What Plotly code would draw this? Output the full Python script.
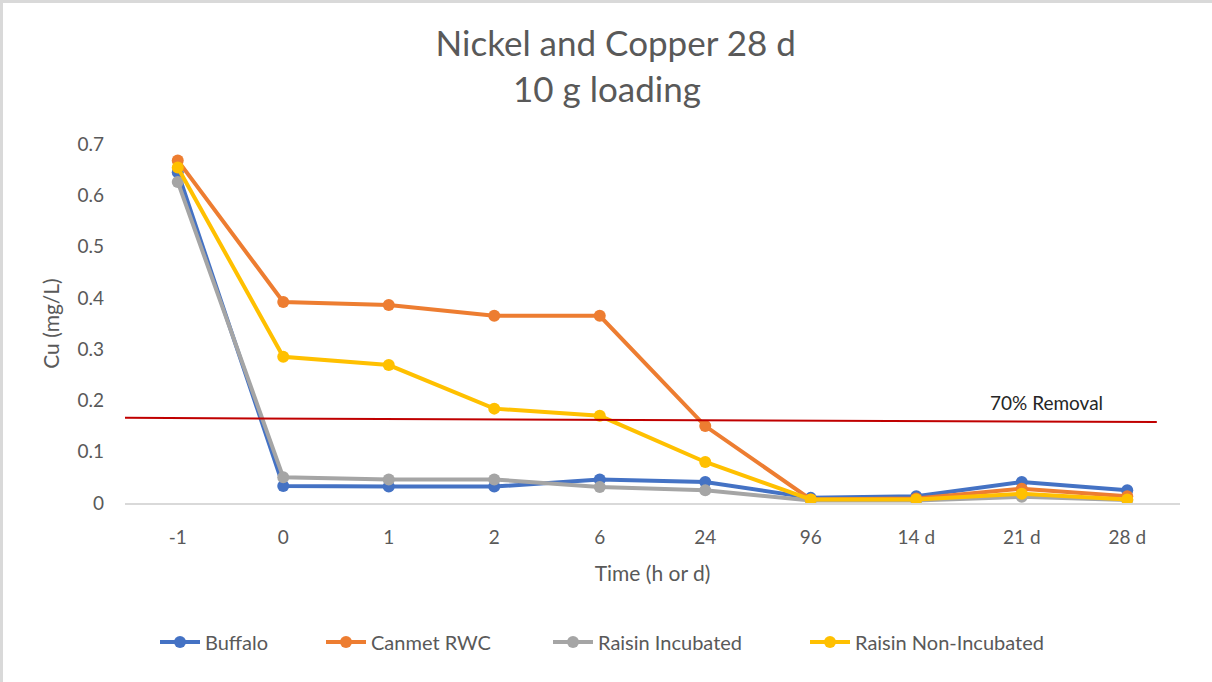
import plotly.graph_objects as go

times = ["-1", "0", "1", "2", "6", "24", "96", "14 d", "21 d", "28 d"]

buffalo = [0.645, 0.033, 0.032, 0.032, 0.046, 0.041, 0.010, 0.013, 0.041, 0.025]
canmet_rwc = [0.668, 0.392, 0.386, 0.365, 0.365, 0.150, 0.007, 0.009, 0.028, 0.013]
raisin_incubated = [0.626, 0.050, 0.046, 0.046, 0.031, 0.025, 0.005, 0.005, 0.012, 0.006]
raisin_non_incubated = [0.654, 0.285, 0.269, 0.184, 0.170, 0.080, 0.007, 0.007, 0.018, 0.007]

# 70% removal reference line (drawn freehand in the original, slightly sloped)
removal_pos = [0.0, 0.978]
removal_level = [0.166, 0.158]

series = [
    ("Buffalo", buffalo, "#4472C4"),
    ("Canmet RWC", canmet_rwc, "#ED7D31"),
    ("Raisin Incubated", raisin_incubated, "#A5A5A5"),
    ("Raisin Non-Incubated", raisin_non_incubated, "#FFC000"),
]

FONT = "Lato"
GREY = "#595959"

W, H = 1212, 682
L, R, T, B = 125, 32, 144, 179
pw, ph = W - L - R, H - T - B

# legend entry start positions (px) in the original
legend_px = [151, 317, 544, 801]

fig = go.Figure()

for i, (name, vals, color) in enumerate(series):
    fig.add_trace(go.Scatter(
        x=times,
        y=vals,
        name=name,
        mode="lines+markers",
        line=dict(color=color, width=4),
        marker=dict(color=color, size=12),
        legend="legend" if i == 0 else f"legend{i + 1}",
    ))

fig.add_trace(go.Scatter(
    x=removal_pos,
    y=removal_level,
    xaxis="x2",
    mode="lines",
    line=dict(color="#C00000", width=2),
    showlegend=False,
    hoverinfo="skip",
))

legends = {}
for i, px in enumerate(legend_px):
    key = "legend" if i == 0 else f"legend{i + 1}"
    legends[key] = dict(
        orientation="h",
        x=(px - L + 4) / pw,
        xanchor="left",
        y=-(642 - T - ph) / ph,
        yanchor="middle",
        font=dict(size=20, color=GREY),
        itemwidth=40,
        bgcolor="rgba(0,0,0,0)",
    )

fig.update_layout(
    width=W,
    height=H,
    margin=dict(l=L, r=R, t=T, b=B),
    paper_bgcolor="white",
    plot_bgcolor="white",
    font=dict(family=FONT, color=GREY, size=17),
    title=dict(
        text="Nickel and Copper 28 d",
        x=0.508,
        xanchor="center",
        y=1 - 44 / H,
        yanchor="middle",
        font=dict(family=FONT, size=35, color=GREY),
    ),
    annotations=[
        dict(
            text="10 g loading",
            xref="paper", yref="paper",
            x=0.457, y=1 + (T - 88) / ph,
            xanchor="center", yanchor="middle",
            showarrow=False,
            font=dict(family=FONT, size=35, color=GREY),
        ),
        dict(
            text="70% Removal",
            xref="x2", yref="y",
            x=0.873, y=0.195,
            xanchor="center", yanchor="middle",
            showarrow=False,
            font=dict(family=FONT, size=19, color="#262626"),
        ),
    ],
    xaxis=dict(
        type="category",
        range=[-0.5, 9.5],
        showgrid=False,
        showline=True,
        linecolor="#D9D9D9",
        linewidth=2,
        ticks="",
        ticklabelstandoff=16,
        tickfont=dict(size=19, color=GREY),
        title=dict(text="Time (h or d)", font=dict(size=21, color=GREY), standoff=20),
    ),
    xaxis2=dict(
        overlaying="x",
        range=[0, 1],
        visible=False,
    ),
    yaxis=dict(
        range=[0, 0.7],
        dtick=0.1,
        showgrid=False,
        zeroline=False,
        ticks="",
        ticklabelstandoff=20,
        tickfont=dict(size=19, color=GREY),
        title=dict(text="Cu (mg/L)", font=dict(size=21, color=GREY), standoff=12),
    ),
    shapes=[
        dict(
            type="rect",
            xref="paper", yref="paper",
            x0=-(L - 1.5) / pw, x1=1 + (R + 20) / pw,
            y0=-(B + 20) / ph, y1=1 + (T - 1.5) / ph,
            line=dict(color="#D9D9D9", width=3),
            layer="below",
        )
    ],
    **legends,
)

fig.write_html(
    "out.html",
    config={"displayModeBar": False},
    post_script="document.body.style.margin='0';",
)
